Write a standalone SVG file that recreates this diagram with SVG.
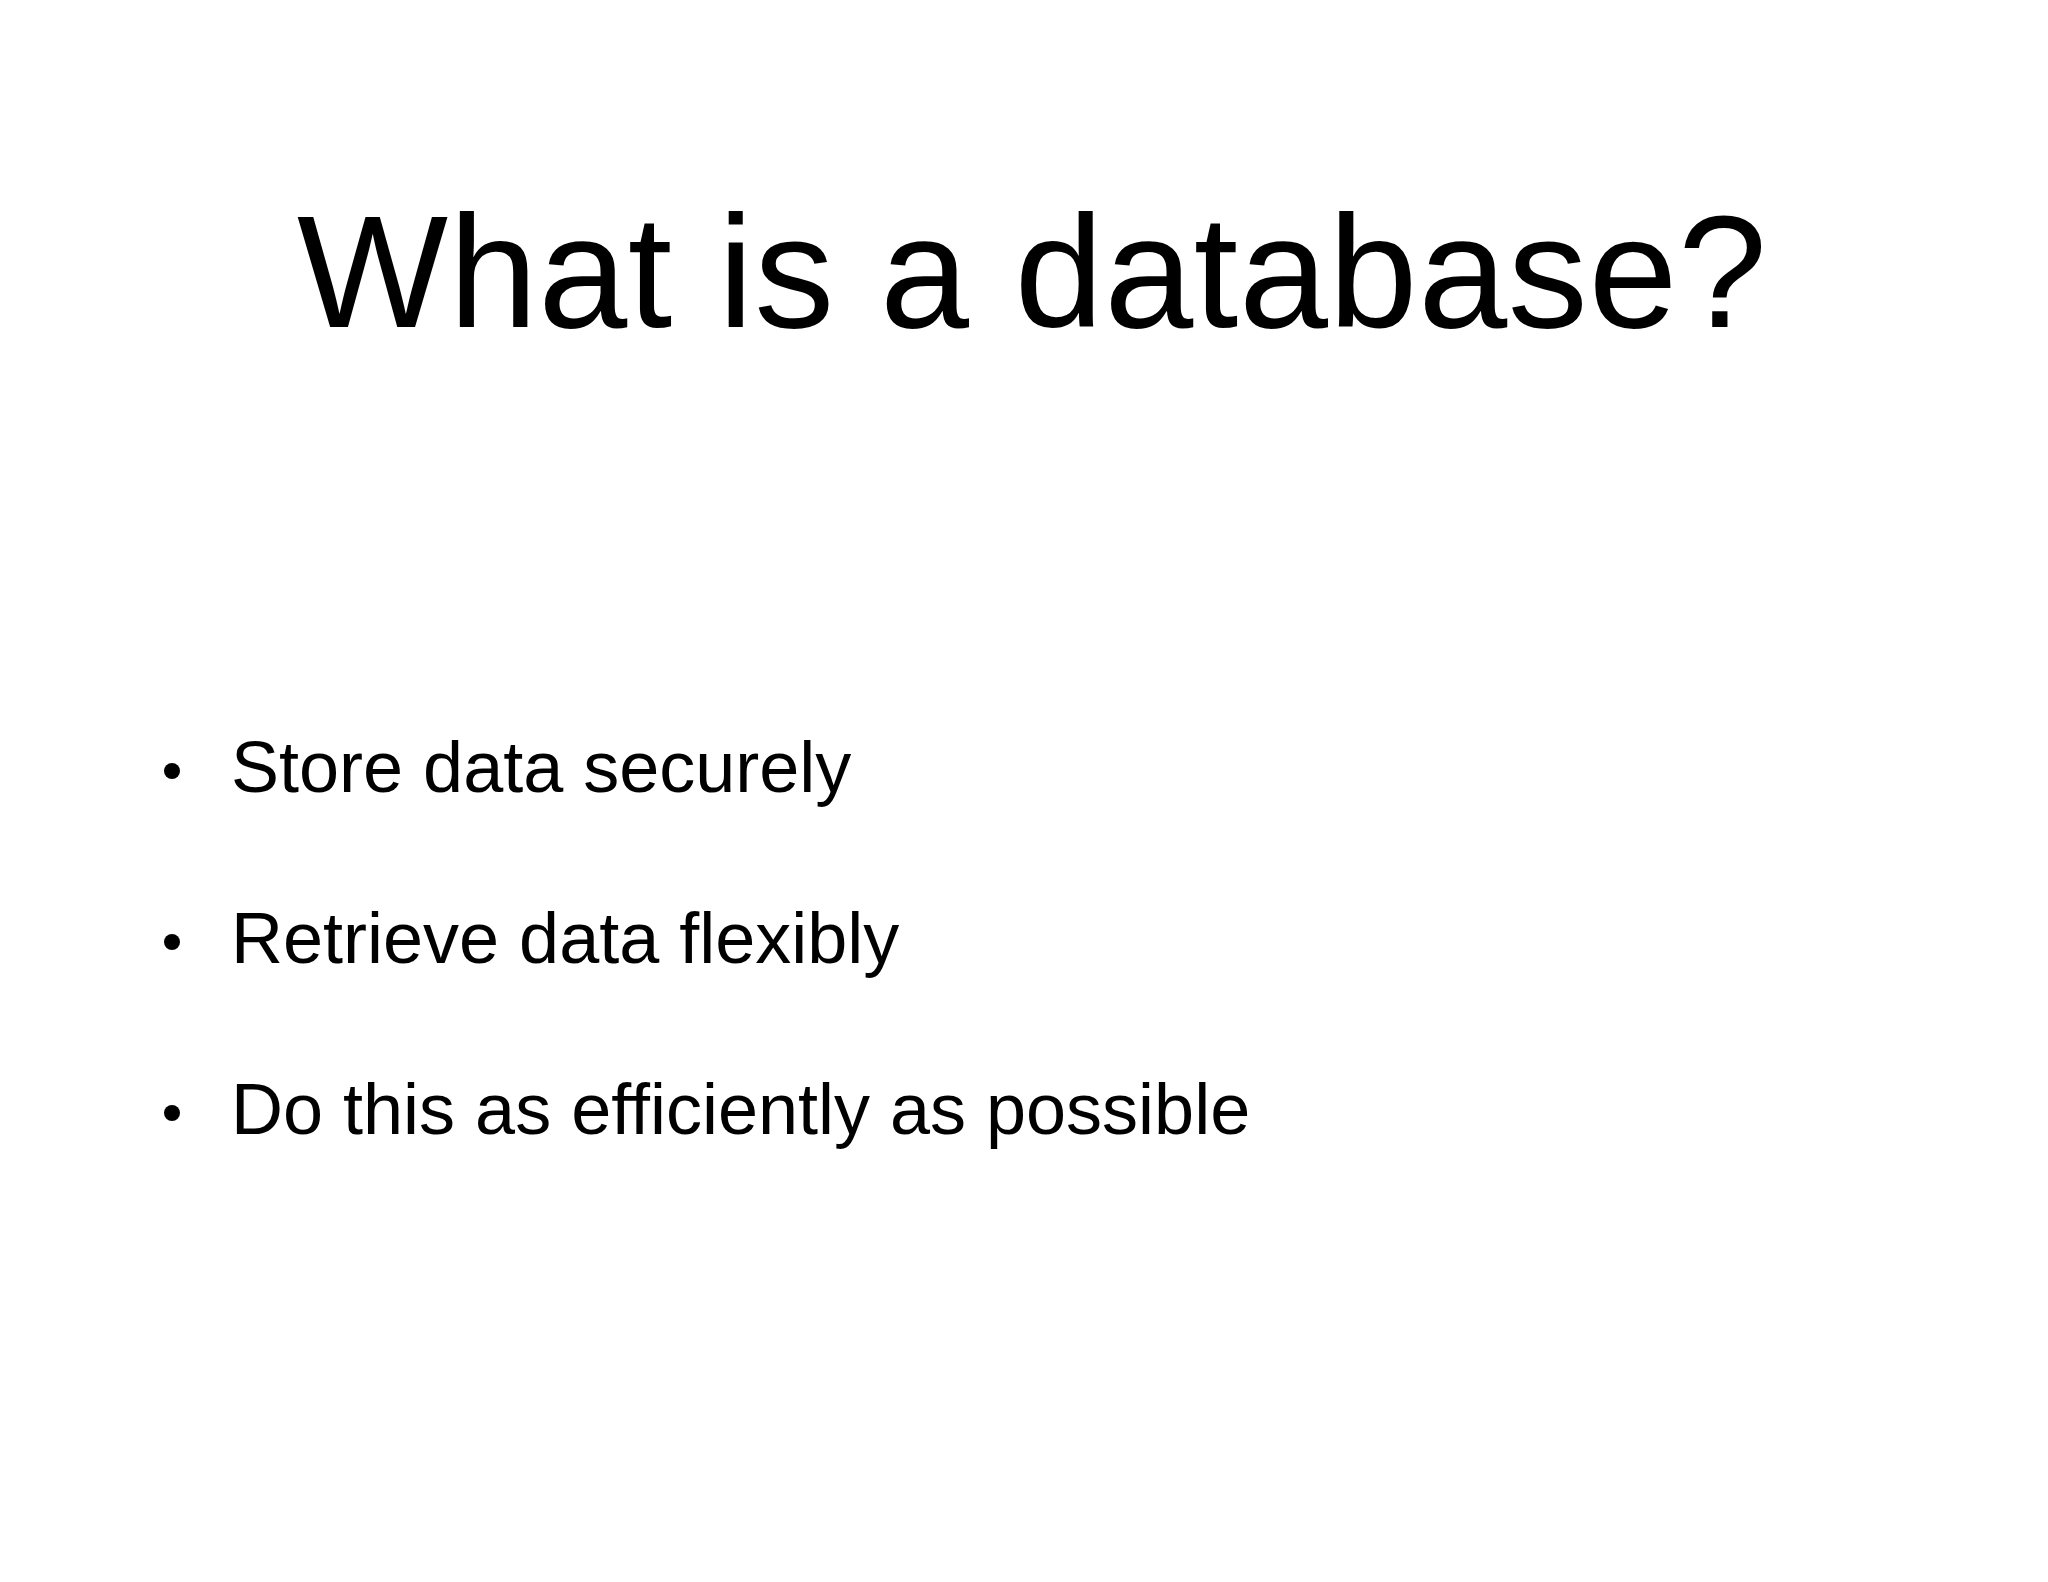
<svg xmlns="http://www.w3.org/2000/svg" width="2048" height="1582" viewBox="0 0 2048 1582">
<style>
.t{font-family:"Liberation Sans",Arial,sans-serif;fill:#000}
.b{font-size:72px}
</style>
<rect width="2048" height="1582" fill="#fff"/>
<g id="title"><text class="t" x="1032" y="327" font-size="160" text-anchor="middle" textLength="1470">What is a database?</text></g>
<g id="bullets">
<circle cx="172" cy="771" r="8"/><text class="t b" x="231" y="792">Store data securely</text>
<circle cx="172" cy="942" r="8"/><text class="t b" x="231" y="963">Retrieve data flexibly</text>
<circle cx="172" cy="1113" r="8"/><text class="t b" x="231" y="1134">Do this as efficiently as possible</text>
</g>
</svg>
